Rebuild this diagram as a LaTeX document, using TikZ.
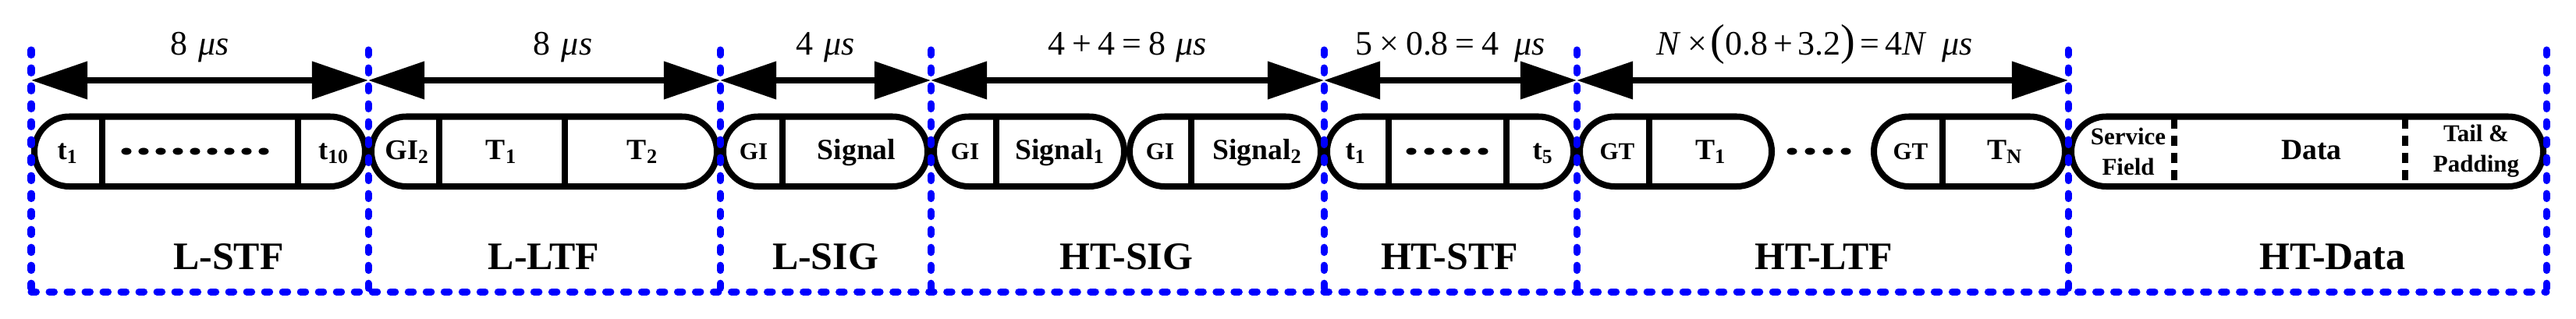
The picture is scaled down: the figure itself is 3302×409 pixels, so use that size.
\documentclass[tikz,border=0pt]{standalone}
\usepackage{fontspec}
\setmainfont{Liberation Serif}
\usetikzlibrary{arrows.meta}

\tikzset{
  capsule/.style={draw, line width=0.08cm, rounded corners=0.447cm},
  divider/.style={line width=0.08cm},
  dimarrow/.style={line width=0.075cm,
    {Triangle[length=0.72cm,width=0.47cm]}-{Triangle[length=0.72cm,width=0.47cm]}},
  fence/.style={draw=blue, line width=0.09cm, line cap=round, dash pattern=on 0.065cm off 0.165cm},
  dimlabel/.style={anchor=base, yshift=0.32cm, font=\fontsize{12.5}{15}\selectfont},
  seclabel/.style={anchor=base, font=\bfseries\fontsize{14.2}{17}\selectfont},
  fieldtext/.style={anchor=base, font=\bfseries\fontsize{10.7}{12}\selectfont},
  symtext/.style={anchor=base, font=\bfseries\fontsize{10.4}{12}\selectfont},
  guardtext/.style={anchor=base, font=\bfseries\fontsize{8.8}{10}\selectfont},
  datatext/.style={align=center, font=\bfseries\fontsize{8.8}{11.1}\selectfont},
}

\begin{document}
\begin{tikzpicture}[x=0.01cm,y=-0.01cm]

    \useasboundingbox (0,0) rectangle (3302,409);

    % field boundaries on the arrow line
    \coordinate (b0) at (40,103);
    \coordinate (b1) at (472,103);
    \coordinate (b2) at (923,103);
    \coordinate (b3) at (1193,103);
    \coordinate (b4) at (1697,103);
    \coordinate (b5) at (2021,103);
    \coordinate (b6) at (2651,103);

    % durations
    \draw[dimarrow] (b0) -- node[dimlabel] (dstf) {8\hspace{0.32em}\textit{μs}} (b1);
    \draw[dimarrow] (b1) -- node[dimlabel,xshift=0.24cm] (dltf) {8\hspace{0.32em}\textit{μs}} (b2);
    \draw[dimarrow] (b2) -- node[dimlabel] (dsig) {4\hspace{0.32em}\textit{μs}} (b3);
    \draw[dimarrow] (b3) -- node[dimlabel] (dhtsig) {4\hspace{0.2em}+\hspace{0.2em}4\hspace{0.2em}=\hspace{0.2em}8\hspace{0.3em}\textit{μs}} (b4);
    \draw[dimarrow] (b4) -- node[dimlabel] (dhtstf) {5\hspace{0.2em}×\hspace{0.2em}0.8\hspace{0.2em}=\hspace{0.2em}4\hspace{0.45em}\textit{μs}} (b5);
    \draw[dimarrow] (b5) -- node[dimlabel,xshift=-0.1cm] (dhtltf) {\textit{N}\hspace{0.2em}×\hspace{0.1em}{\fontsize{16}{16}\selectfont(}0.8\hspace{0.15em}+\hspace{0.15em}3.2{\fontsize{16}{16}\selectfont)}\hspace{0.15em}=\hspace{0.15em}4\textit{N}\hspace{0.45em}\textit{μs}} (b6);

    % capsules
    \draw[capsule] (44,149.5) rectangle (468,239);
    \draw[capsule] (476,149.5) rectangle (919,239);
    \draw[capsule] (927,149.5) rectangle (1189,239);
    \draw[capsule] (1197,149.5) rectangle (1441,239);
    \draw[capsule] (1448,149.5) rectangle (1693,239);
    \draw[capsule] (1701,149.5) rectangle (2017,239);
    \draw[capsule] (2025,149.5) rectangle (2271,239);
    \draw[capsule] (2402,149.5) rectangle (2647,239);
    \draw[capsule] (2655,149.5) rectangle (3260,239);

    % dividers
    \foreach \x in {131,382,563,724,1003,1277,1527,1780,1931,2114,2490}
      \draw[divider] (\x,149.5) -- (\x,239);
    \foreach \x in {2787,3083}
      \draw[divider,dash pattern=on 0.13cm off 0.09cm] (\x,152) -- (\x,239);

    % dots
    \foreach \i in {0,...,8}
      \fill ({162+22*\i},194) ellipse (0.065cm and 0.045cm);
    \foreach \i in {0,...,4}
      \fill ({1809+23*\i},194) ellipse (0.065cm and 0.045cm);
    \foreach \i in {0,...,3}
      \fill ({2297+23*\i},194) ellipse (0.065cm and 0.045cm);

    % field texts
    \node[symtext] (st1) at (87,204) {t\textsubscript{1}};
    \node[symtext] (st10) at (428,204) {t\textsubscript{10}};
    \node[symtext] (lgi) at (522,204) {GI\textsubscript{2}};
    \node[fieldtext] (lt1) at (643,204) {T\textsubscript{1}};
    \node[fieldtext] (lt2) at (824,204) {T\textsubscript{2}};
    \node[guardtext] (sgi) at (966,204) {GI};
    \node[fieldtext] (ssig) at (1098,204) {Signal};
    \node[guardtext] (hgi1) at (1237,204) {GI};
    \node[fieldtext] (hsig1) at (1359,204) {Signal\textsubscript{1}};
    \node[guardtext] (hgi2) at (1487,204) {GI};
    \node[fieldtext] (hsig2) at (1612,204) {Signal\textsubscript{2}};
    \node[symtext] (ht1) at (1738,204) {t\textsubscript{1}};
    \node[symtext] (ht5) at (1978,204) {t\textsubscript{5}};
    \node[guardtext] (gt1) at (2073,204) {GT};
    \node[fieldtext] (tt1) at (2193,204) {T\textsubscript{1}};
    \node[guardtext] (gtn) at (2449,204) {GT};
    \node[fieldtext] (ttn) at (2570,204) {T\textsubscript{N}};
    \node[datatext] (serv) at (2728,194) {Service\\Field};
    \node[fieldtext] (data) at (2963,204) {Data};
    \node[datatext] (tail) at (3174,194) {Tail \&\\Padding};

    % field names
    \node[seclabel] (lstf) at (293,345) {L-STF};
    \node[seclabel] (lltf) at (697,345) {L-LTF};
    \node[seclabel] (lsig) at (1058,345) {L-SIG};
    \node[seclabel] (htsig) at (1444,345) {HT-SIG};
    \node[seclabel] (htstf) at (1858,345) {HT-STF};
    \node[seclabel] (htltf) at (2338,345) {HT-LTF};
    \node[seclabel] (htdata) at (2990,345) {HT-Data};

    % section frame
    \foreach \x in {40,472,923,1193,1697,2021,2651,3264}
      \draw[fence] (\x,64) -- (\x,374);
    \draw[fence] (40,374) -- (3264,374);

\end{tikzpicture}
\end{document}
